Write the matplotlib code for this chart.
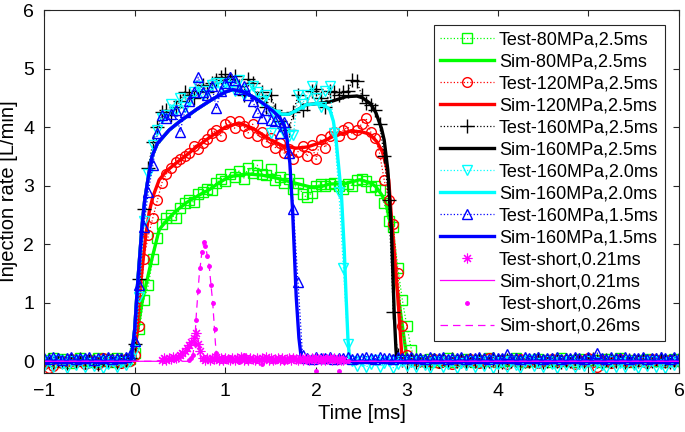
import numpy as np
import matplotlib
matplotlib.use("Agg")
import matplotlib.pyplot as plt

plt.rcParams['font.family'] = ['Liberation Sans', 'DejaVu Sans']
plt.rcParams['font.size'] = 13

# ---- measured (test) data, sampled every 0.05 ms ----
t_pre = np.round(np.arange(-1.0, -0.001, 0.05), 2)    # -1.00 .. -0.05
t_act = np.round(np.arange(0.0, 3.101, 0.05), 2)      #  0.00 .. 3.10
t_post = np.round(np.arange(3.15, 6.001, 0.05), 2)    #  3.15 .. 6.00
t_test = np.concatenate([t_pre, t_act, t_post])

# Test-80MPa,2.5ms
test80_pre = [0.03, 0.0, 0.05, -0.02, 0.04, 0.0, -0.03, 0.02, 0.05, 0.0,
              0.03, -0.02, 0.06, 0.01, 0.04, -0.01, 0.05, 0.02, 0.0, 0.04]
test80_act = [0.15, 0.55, 1.05, 1.30, 1.75, 2.10, 2.35, 2.45, 2.50, 2.45,
              2.62, 2.70, 2.75, 2.72, 2.85, 2.90, 2.95, 2.92, 3.05, 3.12,
              3.08, 3.20, 3.15, 3.25, 3.12, 3.30, 3.22, 3.35, 3.20, 3.18,
              3.28, 3.10, 3.15, 3.05, 3.12, 2.95, 3.05, 2.85, 2.80, 2.88,
              3.00, 3.02, 3.00, 3.02, 3.05, 3.00, 2.95, 3.02, 3.00, 3.10,
              3.12, 3.08, 2.98, 3.00, 2.92, 2.70, 2.40, 2.30, 1.60, 1.05,
              0.60, 0.20, 0.02]
test80_post = [0.02, 0.0, 0.04, -0.02, 0.03, 0.01, 0.05, -0.01, 0.02, 0.0,
               0.04, 0.02, -0.02, 0.03, 0.0, 0.05, 0.01, -0.01, 0.03, 0.0,
               0.02, 0.06, 0.0, -0.02, 0.03, 0.01, 0.04, 0.0, 0.02, -0.01,
               0.03, 0.05, 0.0, 0.02, -0.02, 0.04, 0.01, 0.0, 0.03, 0.02,
               -0.01, 0.04, 0.0, 0.02, 0.05, 0.01, -0.02, 0.03, 0.0, 0.02,
               0.04, 0.01, 0.0, 0.03, -0.01, 0.02, 0.04, 0.0]

# Test-120MPa,2.5ms
test120_pre = [-0.05, -0.12, -0.08, 0.02, -0.03, 0.0, 0.04, -0.02, 0.01, -0.05,
               0.03, 0.0, -0.04, 0.05, -0.02, 0.02, 0.0, -0.03, 0.04, 0.0]
test120_act = [0.10, 0.60, 1.75, 2.15, 2.45, 2.75, 3.05, 3.20, 3.30, 3.40,
               3.45, 3.50, 3.55, 3.68, 3.62, 3.72, 3.80, 3.90, 3.95, 3.85,
               4.05, 4.10, 3.98, 4.10, 4.02, 3.90, 4.05, 3.85, 3.92, 3.75,
               3.82, 3.65, 3.72, 3.55, 3.62, 3.45, 3.58, 3.68, 3.50, 3.70,
               3.45, 3.80, 3.65, 3.85, 3.92, 3.85, 3.95, 4.00, 3.88, 3.95,
               4.05, 4.15, 3.92, 3.82, 3.55, 3.10, 2.75, 2.35, 1.50, 0.60,
               0.10, 0.02, 0.0]
test120_post = [0.03, -0.02, 0.0, 0.04, -0.03, 0.02, 0.0, -0.05, 0.03, 0.01,
                -0.02, 0.04, 0.0, -0.03, 0.02, 0.05, -0.01, 0.0, 0.03, -0.04,
                0.02, 0.0, 0.04, -0.02, 0.01, 0.03, -0.03, 0.0, 0.02, 0.04,
                -0.02, 0.0, 0.03, 0.01, -0.04, 0.02, 0.0, 0.05, -0.02, -0.10,
                0.03, 0.0, -0.03, 0.02, 0.04, 0.0, -0.02, 0.03, 0.01, 0.0,
                -0.03, 0.04, 0.02, 0.0, -0.02, 0.03, 0.0, 0.02]

# Test-160MPa,2.5ms
test160_pre = [0.0, 0.02, -0.02, 0.03, 0.0, -0.03, 0.02, 0.0, 0.04, -0.02,
               0.01, 0.0, -0.04, 0.03, 0.0, 0.02, -0.02, 0.0, 0.03, 0.05]
test160_act = [0.30, 1.40, 2.60, 3.30, 3.75, 4.00, 4.25, 4.30, 4.20, 4.35,
               4.45, 4.60, 4.55, 4.50, 4.62, 4.72, 4.60, 4.75, 4.80, 4.85,
               4.90, 4.82, 4.88, 4.70, 4.55, 4.82, 4.75, 4.50, 4.60, 4.35,
               4.55, 4.30, 4.10, 4.00, 3.95, 4.25, 4.55, 4.30, 4.40, 4.62,
               4.65, 4.50, 4.35, 4.62, 4.60, 4.55, 4.60, 4.62, 4.80, 4.78,
               4.55, 4.42, 4.38, 4.30, 4.05, 3.50, 2.75, 0.85, 0.10, 0.02,
               0.0, 0.03, -0.02]
test160_post = [0.02, 0.0, -0.03, 0.03, 0.0, 0.02, -0.02, 0.04, 0.0, 0.01,
                -0.03, 0.02, 0.0, 0.03, -0.02, 0.0, 0.04, 0.01, -0.02, 0.02,
                0.0, 0.03, -0.03, 0.01, 0.0, 0.02, 0.04, -0.02, 0.0, 0.03,
                0.01, -0.02, 0.02, 0.0, 0.03, -0.01, 0.0, 0.02, 0.04, 0.0,
                -0.03, 0.02, 0.01, 0.0, 0.03, -0.02, 0.02, 0.0, 0.01, 0.03,
                -0.02, 0.0, 0.02, 0.04, 0.0, -0.01, 0.02, 0.0]

# Test-160MPa,2.0ms
test160b_pre = [-0.08, 0.0, -0.10, 0.02, -0.05, -0.12, 0.0, -0.06, 0.02, -0.10,
                -0.03, -0.08, 0.0, -0.11, -0.04, 0.01, -0.09, -0.02, -0.06, 0.0]
test160b_act = [0.20, 1.10, 2.40, 3.20, 3.70, 3.95, 4.15, 4.20, 4.40, 4.30,
                4.50, 4.35, 4.45, 4.60, 4.70, 4.55, 4.62, 4.72, 4.75, 4.68,
                4.75, 4.70, 4.62, 4.80, 4.55, 4.65, 4.70, 4.60, 4.45, 4.55,
                3.90, 4.20, 4.00, 3.90, 3.85, 3.87, 4.55, 4.40, 4.55, 4.70,
                4.50, 4.35, 4.62, 4.70, 3.90, 2.90, 1.60, 0.30, 0.0, -0.08,
                0.0, -0.10, -0.04, 0.02, -0.09, -0.03, 0.0, -0.11, -0.05, 0.01,
                -0.08, -0.02, -0.10]
test160b_post = [0.0, -0.07, -0.12, -0.02, 0.01, -0.09, -0.04, 0.0, -0.11, -0.03,
                 -0.06, 0.01, -0.10, -0.02, -0.08, 0.0, -0.12, -0.04, -0.01, -0.09,
                 0.0, -0.06, -0.11, -0.02, 0.02, -0.08, -0.03, -0.10, 0.0, -0.05,
                 -0.12, -0.01, -0.07, 0.01, -0.10, -0.04, -0.08, 0.0, -0.11, -0.02,
                 -0.06, -0.12, 0.0, -0.09, -0.03, -0.10, 0.01, -0.07, -0.12, -0.02,
                 -0.08, 0.0, -0.10, -0.04, -0.11, -0.01, -0.06, 0.0]

# Test-160MPa,1.5ms
test160c_pre = [0.06, 0.04, 0.07, 0.05, 0.03, 0.06, 0.08, 0.04, 0.06, 0.05,
                0.07, 0.03, 0.06, 0.05, 0.08, 0.04, 0.06, 0.05, 0.07, 0.10]
test160c_act = [0.35, 1.30, 2.30, 2.90, 3.35, 3.90, 4.20, 4.15, 4.22, 4.30,
                3.92, 4.25, 4.45, 4.60, 4.85, 4.60, 4.55, 4.70, 4.33, 4.62,
                4.75, 4.85, 4.80, 4.65, 4.70, 4.55, 4.45, 4.25, 4.15, 4.30,
                4.12, 4.10, 3.90, 4.09, 3.55, 2.60, 1.35, 0.10, 0.06, 0.04,
                0.07, 0.05, 0.06, 0.08, 0.04, 0.06, 0.05, 0.07, 0.04, 0.06,
                0.05, 0.08, 0.06, 0.04, 0.07, 0.05, 0.06, 0.04, 0.07, 0.05,
                0.06, 0.08, 0.05]
test160c_post = [0.06, 0.04, 0.07, 0.05, 0.06, 0.08, 0.04, 0.06, 0.05, 0.07,
                 0.04, 0.06, 0.05, 0.08, 0.06, 0.04, 0.07, 0.05, 0.06, 0.12,
                 0.05, 0.06, 0.04, 0.07, 0.05, 0.06, 0.08, 0.04, 0.06, 0.05,
                 0.07, 0.04, 0.06, 0.05, 0.08, 0.06, 0.04, 0.07, 0.05, 0.14,
                 0.06, 0.04, 0.07, 0.05, 0.06, 0.08, 0.04, 0.06, 0.05, 0.07,
                 0.04, 0.06, 0.05, 0.08, 0.06, 0.04, 0.07, 0.05]

# ---- simulated curves ----
sim80_t = [-1, -0.02, 0.0, 0.08, 0.18, 0.27, 0.35, 0.45, 0.57, 0.70, 0.82, 0.93, 1.04,
           1.23, 1.40, 1.56, 1.75, 1.93, 2.05, 2.15, 2.30, 2.48, 2.60, 2.66, 2.72, 2.77,
           2.83, 2.88, 2.92, 2.96, 3.00, 3.02, 6]
sim80_y = [0, 0, 0.20, 1.00, 1.69, 2.25, 2.40, 2.56, 2.71, 2.83, 2.93, 3.05, 3.15,
           3.20, 3.18, 3.13, 3.05, 2.98, 2.98, 3.03, 3.03, 3.10, 3.05, 2.98, 2.85, 2.71,
           2.25, 1.40, 0.95, 0.50, 0.05, 0, 0]

sim120_t = [-1, 0.0, 0.05, 0.12, 0.16, 0.20, 0.27, 0.35, 0.46, 0.57, 0.68, 0.85, 1.00,
            1.15, 1.30, 1.48, 1.63, 1.78, 1.90, 2.04, 2.20, 2.37, 2.50, 2.59, 2.67, 2.73,
            2.77, 2.80, 2.84, 2.90, 2.94, 2.95, 6]
sim120_y = [0, 0, 1.11, 2.13, 2.55, 2.81, 3.10, 3.25, 3.39, 3.52, 3.66, 3.85, 4.00,
            4.07, 3.98, 3.80, 3.68, 3.64, 3.66, 3.73, 3.85, 3.93, 3.92, 3.88, 3.75, 3.58,
            3.35, 3.10, 2.25, 1.11, 0.20, 0, 0]

sim160_t = [-1, -0.04, 0.0, 0.03, 0.08, 0.11, 0.14, 0.19, 0.25, 0.38, 0.50, 0.68, 0.85,
            1.00, 1.08, 1.20, 1.30, 1.41, 1.52, 1.62, 1.70, 1.80, 1.89, 2.00, 2.15, 2.33,
            2.45, 2.51, 2.60, 2.66, 2.72, 2.75, 2.79, 2.83, 2.86, 2.88, 2.89, 6]
sim160_y = [0, 0, 0.55, 1.28, 2.30, 2.75, 3.05, 3.50, 3.72, 3.95, 4.10, 4.30, 4.47,
            4.60, 4.64, 4.60, 4.52, 4.41, 4.30, 4.22, 4.22, 4.30, 4.38, 4.40, 4.43, 4.52,
            4.53, 4.50, 4.40, 4.24, 3.98, 3.78, 3.27, 2.25, 0.84, 0.20, 0, 0]

sim160b_t = [-1, -0.04, 0.0, 0.03, 0.08, 0.11, 0.14, 0.19, 0.25, 0.38, 0.50, 0.68, 0.85,
             1.00, 1.08, 1.20, 1.30, 1.41, 1.52, 1.62, 1.70, 1.80, 1.89, 2.00, 2.10, 2.15,
             2.19, 2.22, 2.25, 2.28, 2.31, 2.33, 2.35, 2.37, 6]
sim160b_y = [0, 0, 0.55, 1.28, 2.30, 2.75, 3.05, 3.50, 3.72, 3.95, 4.10, 4.30, 4.47,
             4.60, 4.64, 4.60, 4.52, 4.41, 4.30, 4.22, 4.22, 4.30, 4.38, 4.40, 4.36, 4.30,
             4.10, 3.78, 3.30, 2.81, 1.90, 1.11, 0.40, 0, 0]

sim160c_t = [-1, -0.04, 0.0, 0.03, 0.08, 0.11, 0.14, 0.19, 0.25, 0.38, 0.50, 0.68, 0.85,
             1.00, 1.08, 1.20, 1.30, 1.41, 1.52, 1.60, 1.65, 1.68, 1.71, 1.74, 1.78, 1.81,
             1.84, 6]
sim160c_y = [0, 0, 0.55, 1.28, 2.30, 2.75, 3.05, 3.50, 3.72, 3.95, 4.10, 4.30, 4.47,
             4.60, 4.64, 4.60, 4.52, 4.41, 4.28, 4.16, 4.02, 3.78, 3.39, 2.59, 1.11, 0.40,
             0, 0]

# ---- short injections ----
t_short1 = np.round(np.arange(0.30, 2.301, 0.025), 3)
test_short1 = [0.03, 0.05, 0.02, 0.06, 0.04, 0.07, 0.05, 0.08, 0.10, 0.14,
               0.18, 0.22, 0.27, 0.33, 0.40, 0.48, 0.30, 0.17, 0.05, 0.03,
               0.06, 0.02, 0.05, 0.04, 0.07, 0.03, 0.05, 0.02, 0.06, 0.04,
               0.03, 0.06, 0.02, 0.05, 0.04, 0.07, 0.03, 0.05, 0.02, 0.06,
               0.04, 0.03, 0.05, 0.02, 0.06, 0.04, 0.07, 0.03, 0.05, 0.02,
               0.04, 0.06, 0.03, 0.05, 0.02, 0.04, 0.06, 0.03, 0.05, 0.04,
               0.02, 0.06, 0.03, 0.05, 0.04, 0.02, 0.05, 0.03, 0.06, 0.04,
               0.02, 0.05, 0.03, 0.04, 0.06, 0.02, 0.05, 0.03, 0.04, 0.02,
               0.03]
sim_short1_t = [-1, 0.45, 0.55, 0.62, 0.68, 0.71, 0.73, 6]
sim_short1_y = [0, 0, 0.10, 0.25, 0.45, 0.30, 0, 0]

t_short2 = np.concatenate([np.round(np.arange(0.60, 0.921, 0.02), 2),
                           np.round(np.arange(0.95, 2.351, 0.05), 2)])
test_short2 = [0.02, 0.05, 0.10, 0.30, 0.70, 1.20, 1.60, 1.86, 2.03, 1.97,
               1.80, 1.62, 1.30, 1.00, 0.55, 0.15, 0.02,
               0.05, 0.0, 0.08, 0.02, -0.02, 0.10, 0.0, 0.03, 0.06, -0.05,
               0.02, 0.05, 0.0, 0.04, -0.01, 0.03, 0.07, 0.0, 0.02, 0.01,
               0.04, -0.17, 0.0, 0.05, 0.02, 0.03, -0.17, 0.03, 0.01]
sim_short2_t = [-1, 0.60, 0.64, 0.66, 0.68, 0.71, 0.74, 0.76, 0.78, 0.82, 0.86, 0.89,
                0.91, 6]
sim_short2_y = [0, 0, 0.10, 0.30, 0.82, 1.45, 1.86, 2.03, 1.97, 1.64, 1.00, 0.30,
                0, 0]

labels = ['Test-80MPa,2.5ms', 'Sim-80MPa,2.5ms', 'Test-120MPa,2.5ms', 'Sim-120MPa,2.5ms',
          'Test-160MPa,2.5ms', 'Sim-160MPa,2.5ms', 'Test-160MPa,2.0ms', 'Sim-160MPa,2.0ms',
          'Test-160MPa,1.5ms', 'Sim-160MPa,1.5ms', 'Test-short,0.21ms', 'Sim-short,0.21ms',
          'Test-short,0.26ms', 'Sim-short,0.26ms']

fig = plt.figure(figsize=(6.85, 4.32), dpi=100)
ax = fig.add_axes([44 / 685, 1 - 373 / 432, 635 / 685, 363 / 432])

groups = [
    (test80_pre + test80_act + test80_post, sim80_t, sim80_y, (0, 1, 0), 's'),
    (test120_pre + test120_act + test120_post, sim120_t, sim120_y, (1, 0, 0), 'o'),
    (test160_pre + test160_act + test160_post, sim160_t, sim160_y, 'k', '+'),
    (test160b_pre + test160b_act + test160b_post, sim160b_t, sim160b_y, (0, 1, 1), 'v'),
    (test160c_pre + test160c_act + test160c_post, sim160c_t, sim160c_y, (0, 0, 1), '^'),
]
for i, (test_y, st, sy, c, m) in enumerate(groups):
    ms = 10 if m == '+' else 7
    ax.plot(t_test, test_y, ':', color=c, marker=m, mfc='none', mec=c, ms=ms,
            mew=1.0, lw=0.9, label=labels[2 * i])
    ax.plot(st, sy, '-', color=c, lw=2.4, label=labels[2 * i + 1])

ax.plot(t_short1, test_short1, linestyle='none', color=(1, 0, 1), marker=(8, 2, 0),
        ms=7, mew=0.8, label=labels[10])
ax.plot(sim_short1_t, sim_short1_y, '-', color=(1, 0, 1), lw=0.9, label=labels[11])
ax.plot(t_short2, test_short2, linestyle='none', color=(1, 0, 1), marker='.',
        ms=5, label=labels[12])
ax.plot(sim_short2_t, sim_short2_y, '--', color=(1, 0, 1), lw=0.9,
        dashes=(6, 4), label=labels[13])

ax.set_xlim(-1, 6)
ax.set_ylim(-0.2, 6)
ax.set_xticks(range(-1, 7))
ax.set_yticks(range(0, 7))
ax.tick_params(direction='in', top=True, right=True, length=4, width=0.8,
               color='0.15', labelsize=14, pad=7)
for sp in ax.spines.values():
    sp.set_color('0.15')
    sp.set_linewidth(0.8)
ax.set_xlabel('Time [ms]', fontsize=14.5, labelpad=3)
ax.set_ylabel('Injection rate [L/min]', fontsize=14.5, labelpad=4)

leg = ax.legend(loc='upper right', bbox_to_anchor=(0.978, 0.959), borderaxespad=0,
                fontsize=13, handlelength=3.0, handletextpad=0.25, labelspacing=0.28,
                borderpad=0.35, fancybox=False, framealpha=1, edgecolor='0.15')
leg.get_frame().set_linewidth(0.8)

fig.savefig('out.png', dpi=100)
